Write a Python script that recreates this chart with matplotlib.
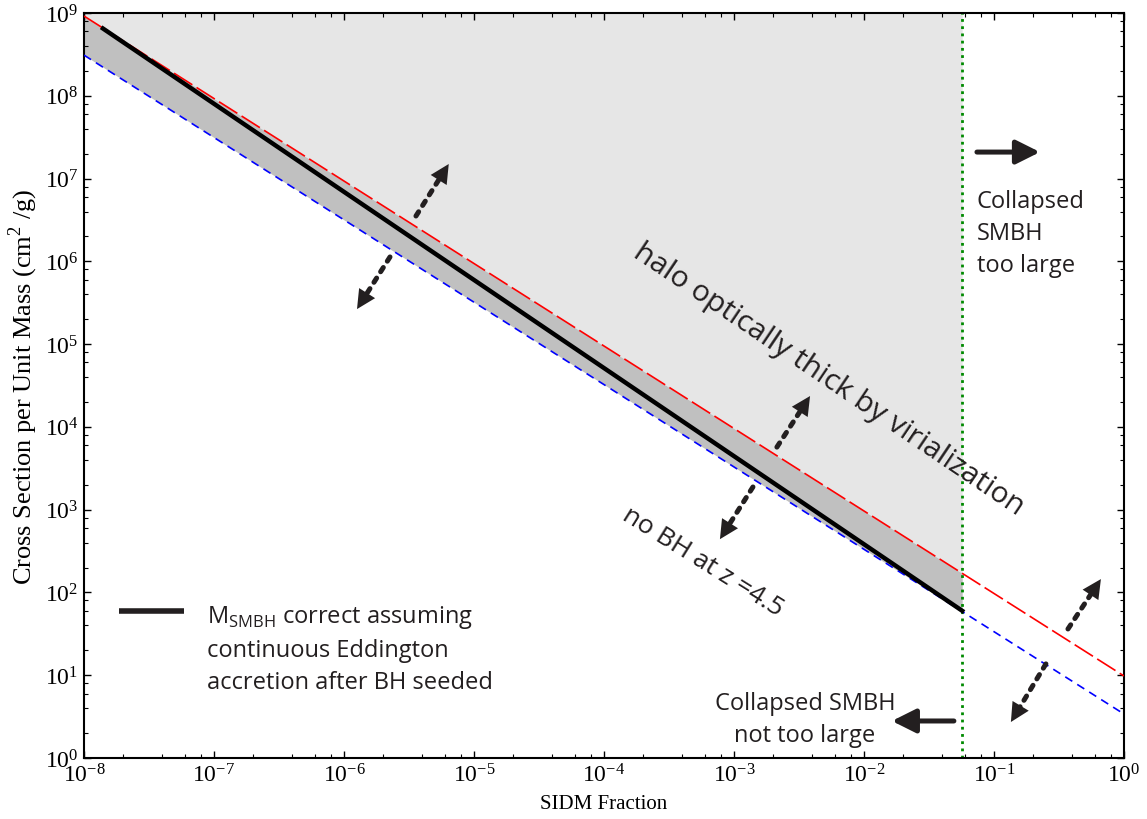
import numpy as np
import matplotlib
matplotlib.use('Agg')
import matplotlib.pyplot as plt
from matplotlib.ticker import LogLocator, NullFormatter

# end points of the three constraints
frac_thick = [1e-8, 1.0]        # red long dash: halo optically thick
sigma_thick = [9.2e8, 9.8]
frac_nobh = [1e-8, 1.0]         # blue short dash: no BH at z=4.5
sigma_nobh = [3.1e8, 3.4]
frac_edd = [1.4e-8, 0.057]      # black: continuous Eddington accretion
sigma_edd = [6.5e8, 60.0]
frac_cut = 0.057                # collapsed SMBH too large to the right
sigma_top = 1e9

x_ticks = [1e-8, 1e-7, 1e-6, 1e-5, 1e-4, 1e-3, 1e-2, 1e-1, 1e0]
y_ticks = [1e0, 1e1, 1e2, 1e3, 1e4, 1e5, 1e6, 1e7, 1e8, 1e9]

INK = '#231f20'
SANS = ['Open Sans', 'DejaVu Sans']

plt.rcParams['font.family'] = ['Liberation Serif', 'DejaVu Serif']


def loglog_interp(xs, x, y):
    return 10 ** np.interp(np.log10(xs), np.log10(x), np.log10(y))


def dotted_arrow(ax, start, tip):
    # filled head only, then the dotted shaft
    ax.annotate('', xy=tip, xytext=start,
                arrowprops=dict(arrowstyle='-|>', mutation_scale=34, lw=0,
                                color=INK, shrinkA=0, shrinkB=0), zorder=6)
    ax.annotate('', xy=tip, xytext=start,
                arrowprops=dict(arrowstyle='-', lw=3.6, ls=(0, (1.0, 1.5)),
                                color=INK, shrinkA=0, shrinkB=12), zorder=6)


def solid_arrow(ax, start, tip):
    ax.annotate('', xy=tip, xytext=start,
                arrowprops=dict(arrowstyle='-|>', mutation_scale=36, lw=3.6,
                                color=INK, shrinkA=0, shrinkB=0), zorder=6)


fig = plt.figure(figsize=(11.47, 8.2), dpi=100)
ax = fig.add_axes([0.0732, 0.0744, 0.9067, 0.9085])
ax.set_xscale('log')
ax.set_yscale('log')

# shaded regions up to the SMBH cut
xf = np.array([frac_thick[0], frac_cut])
red_f = loglog_interp(xf, frac_thick, sigma_thick)
blue_f = loglog_interp(xf, frac_nobh, sigma_nobh)
ax.fill_between(xf, red_f, sigma_top, color='#e6e6e6', lw=0, zorder=0)
ax.fill_between(xf, blue_f, red_f, color='#c0c0c0', lw=0, zorder=1)

ax.plot(frac_thick, sigma_thick, color='red', lw=1.2, ls=(0, (13, 3)), zorder=3)
ax.plot(frac_nobh, sigma_nobh, color='blue', lw=1.2, ls=(0, (5, 3.5)), zorder=3)
ax.plot(frac_edd, sigma_edd, color='black', lw=3.2, zorder=4)
ax.axvline(frac_cut, color='#008a00', lw=2, ls=(0, (1, 1.6)), zorder=2)

# arrows
dotted_arrow(ax, (3.58e-6, 3.53e6), (6.4e-6, 1.5e7))
dotted_arrow(ax, (2.26e-6, 1.13e6), (1.26e-6, 2.65e5))
dotted_arrow(ax, (2.14e-3, 5.7e3), (3.85e-3, 2.36e4))
dotted_arrow(ax, (1.4e-3, 1.88e3), (7.8e-4, 4.4e2))
dotted_arrow(ax, (0.371, 36.2), (0.665, 145))
dotted_arrow(ax, (0.251, 13.7), (0.135, 2.72))
solid_arrow(ax, (0.074, 2.09e7), (0.226, 2.09e7))
solid_arrow(ax, (0.0492, 2.8), (0.0164, 2.8))

# annotations (va='baseline' anchors the last line of multi-line text)
ax.text(0.7125, 0.5007, 'halo optically thick by virialization',
        transform=ax.transAxes, rotation=-34, rotation_mode='anchor',
        ha='center', va='baseline', fontsize=21.5, family=SANS, color=INK)
ax.text(0.5913, 0.2564, 'no BH at z =4.5',
        transform=ax.transAxes, rotation=-32, rotation_mode='anchor',
        ha='center', va='baseline', fontsize=19, family=SANS, color=INK)
ax.text(0.8587, 0.6537, 'Collapsed\nSMBH\ntoo large', transform=ax.transAxes,
        ha='left', va='baseline', fontsize=17, linespacing=1.45,
        family=SANS, color=INK)
ax.text(0.6933, 0.0228, 'Collapsed SMBH\nnot too large', transform=ax.transAxes,
        ha='center', va='baseline', multialignment='center', fontsize=17,
        linespacing=1.45, family=SANS, color=INK)

# legend key drawn by hand so it sits on the first line of the label
ax.plot([0.0337, 0.0962], [0.1973, 0.1973], transform=ax.transAxes,
        color=INK, lw=4, solid_capstyle='butt')
ax.text(0.1183, 0.094,
        'M$_\\mathdefault{SMBH}$ correct assuming\ncontinuous Eddington\naccretion after BH seeded',
        transform=ax.transAxes, ha='left', va='baseline', fontsize=17,
        linespacing=1.45, family=SANS, color=INK)

ax.set_xlim(1e-8, 1e0)
ax.set_ylim(1e0, 1e9)
ax.set_xticks(x_ticks)
ax.set_yticks(y_ticks)
ax.xaxis.set_minor_locator(LogLocator(base=10, subs=(2, 4, 6, 8), numticks=20))
ax.yaxis.set_minor_locator(LogLocator(base=10, subs=(2, 4, 6, 8), numticks=20))
ax.xaxis.set_minor_formatter(NullFormatter())
ax.yaxis.set_minor_formatter(NullFormatter())
ax.tick_params(which='both', direction='in', top=True, right=True, labelsize=17, pad=4)
ax.tick_params(which='major', length=5, width=1)
ax.tick_params(which='minor', length=3, width=0.8)
for s in ax.spines.values():
    s.set_linewidth(1.5)

ax.set_xlabel('SIDM Fraction', fontsize=15)
ax.set_ylabel('Cross Section per Unit Mass (cm$^\\mathdefault{2}$ /g)', fontsize=19)
ax.xaxis.set_label_coords(0.5, -0.048)
ax.yaxis.set_label_coords(-0.042, 0.5)

plt.savefig('out.png', dpi=100)
